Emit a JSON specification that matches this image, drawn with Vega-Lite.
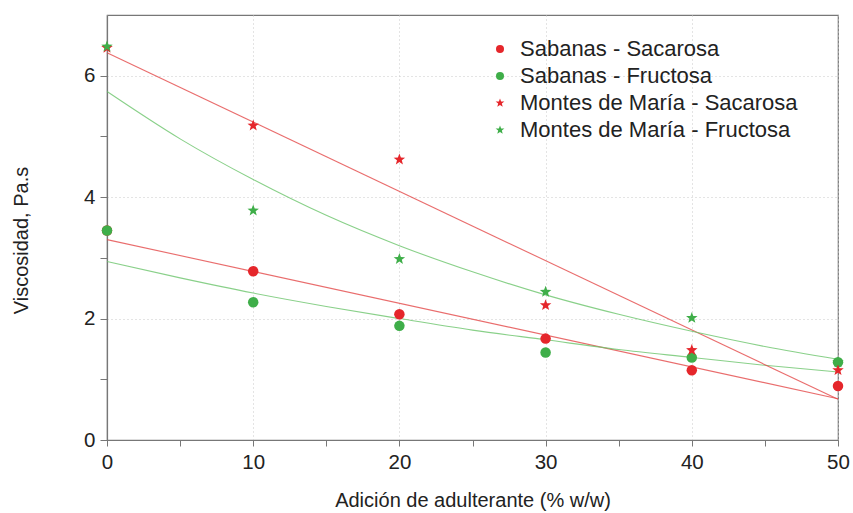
{
  "$schema": "https://vega.github.io/schema/vega-lite/v6.json",
  "width": 731,
  "height": 425,
  "autosize": {"type": "none"},
  "padding": {"left": 107, "top": 15, "right": 15, "bottom": 73},
  "background": "white",
  "config": {
    "font": "Liberation Sans",
    "view": {"stroke": "#777", "strokeWidth": 1.2},
    "axis": {"labelFont": "Liberation Sans", "titleFont": "Liberation Sans"},
    "legend": {"labelFont": "Liberation Sans"}
  },
  "datasets": {
    "pts": [
      {"x": 0, "v": 3.45, "series": "Sabanas - Sacarosa"},
      {"x": 10, "v": 2.78, "series": "Sabanas - Sacarosa"},
      {"x": 20, "v": 2.07, "series": "Sabanas - Sacarosa"},
      {"x": 30, "v": 1.67, "series": "Sabanas - Sacarosa"},
      {"x": 40, "v": 1.15, "series": "Sabanas - Sacarosa"},
      {"x": 50, "v": 0.89, "series": "Sabanas - Sacarosa"},
      {"x": 0, "v": 3.45, "series": "Sabanas - Fructosa"},
      {"x": 10, "v": 2.27, "series": "Sabanas - Fructosa"},
      {"x": 20, "v": 1.88, "series": "Sabanas - Fructosa"},
      {"x": 30, "v": 1.44, "series": "Sabanas - Fructosa"},
      {"x": 40, "v": 1.36, "series": "Sabanas - Fructosa"},
      {"x": 50, "v": 1.28, "series": "Sabanas - Fructosa"},
      {"x": 0, "v": 6.46, "series": "Montes de María - Sacarosa"},
      {"x": 10, "v": 5.18, "series": "Montes de María - Sacarosa"},
      {"x": 20, "v": 4.62, "series": "Montes de María - Sacarosa"},
      {"x": 30, "v": 2.22, "series": "Montes de María - Sacarosa"},
      {"x": 40, "v": 1.48, "series": "Montes de María - Sacarosa"},
      {"x": 50, "v": 1.15, "series": "Montes de María - Sacarosa"},
      {"x": 0, "v": 6.48, "series": "Montes de María - Fructosa"},
      {"x": 10, "v": 3.78, "series": "Montes de María - Fructosa"},
      {"x": 20, "v": 2.98, "series": "Montes de María - Fructosa"},
      {"x": 30, "v": 2.44, "series": "Montes de María - Fructosa"},
      {"x": 40, "v": 2.01, "series": "Montes de María - Fructosa"},
      {"x": 50, "v": 1.28, "series": "Montes de María - Fructosa"}
    ],
    "fits": [
      {"x": 0, "v": 3.30, "curve": "fit Sabanas - Sacarosa"},
      {"x": 50, "v": 0.68, "curve": "fit Sabanas - Sacarosa"},
      {"x": 0, "v": 2.94, "curve": "fit Sabanas - Fructosa"},
      {"x": 5, "v": 2.67, "curve": "fit Sabanas - Fructosa"},
      {"x": 10, "v": 2.42, "curve": "fit Sabanas - Fructosa"},
      {"x": 15, "v": 2.20, "curve": "fit Sabanas - Fructosa"},
      {"x": 20, "v": 2.00, "curve": "fit Sabanas - Fructosa"},
      {"x": 25, "v": 1.81, "curve": "fit Sabanas - Fructosa"},
      {"x": 30, "v": 1.65, "curve": "fit Sabanas - Fructosa"},
      {"x": 35, "v": 1.49, "curve": "fit Sabanas - Fructosa"},
      {"x": 40, "v": 1.36, "curve": "fit Sabanas - Fructosa"},
      {"x": 45, "v": 1.23, "curve": "fit Sabanas - Fructosa"},
      {"x": 50, "v": 1.12, "curve": "fit Sabanas - Fructosa"},
      {"x": 0, "v": 6.38, "curve": "fit Montes de María - Sacarosa"},
      {"x": 50, "v": 0.67, "curve": "fit Montes de María - Sacarosa"},
      {"x": 0, "v": 5.74, "curve": "fit Montes de María - Fructosa"},
      {"x": 5, "v": 4.96, "curve": "fit Montes de María - Fructosa"},
      {"x": 10, "v": 4.29, "curve": "fit Montes de María - Fructosa"},
      {"x": 15, "v": 3.70, "curve": "fit Montes de María - Fructosa"},
      {"x": 20, "v": 3.20, "curve": "fit Montes de María - Fructosa"},
      {"x": 25, "v": 2.77, "curve": "fit Montes de María - Fructosa"},
      {"x": 30, "v": 2.39, "curve": "fit Montes de María - Fructosa"},
      {"x": 35, "v": 2.07, "curve": "fit Montes de María - Fructosa"},
      {"x": 40, "v": 1.79, "curve": "fit Montes de María - Fructosa"},
      {"x": 45, "v": 1.54, "curve": "fit Montes de María - Fructosa"},
      {"x": 50, "v": 1.33, "curve": "fit Montes de María - Fructosa"}
    ]
  },
  "encoding": {
    "x": {"field": "x", "type": "quantitative", "scale": {"domain": [0, 50], "nice": false},
      "axis": {"values": [0, 5, 10, 15, 20, 25, 30, 35, 40, 45, 50],
        "labelExpr": "datum.value % 10 === 0 ? datum.label : ''",
        "title": "Adición de adulterante (% w/w)", "titleFontSize": 20, "titleFontWeight": "normal", "titleColor": "#222", "titlePadding": 18,
        "labelFontSize": 20.5, "labelColor": "#222", "labelPadding": 6, "labelFlush": false,
        "tickSize": 6,
        "tickColor": "#777", "domainColor": "#777", "domainWidth": 1.2,
        "grid": true, "gridColor": "#c8c8c8", "gridDash": [1, 3], "gridWidth": 1,
        "gridOpacity": {"condition": {"test": "datum.value % 10 === 0", "value": 1}, "value": 0}}},
    "y": {"field": "v", "type": "quantitative", "scale": {"domain": [0, 7], "nice": false},
      "axis": {"values": [0, 1, 2, 3, 4, 5, 6],
        "labelExpr": "datum.value % 2 === 0 ? datum.label : ''",
        "title": "Viscosidad, Pa.s", "titleFontSize": 20, "titleFontWeight": "normal", "titleColor": "#222", "titlePadding": 52, "titleY": 225,
        "labelFontSize": 20.5, "labelColor": "#222", "labelPadding": 5, "labelFlush": false,
        "tickSize": 7,
        "tickColor": "#777", "domainColor": "#777", "domainWidth": 1.2,
        "grid": true, "gridColor": "#c8c8c8", "gridDash": [1, 3], "gridWidth": 1,
        "gridOpacity": {"condition": {"test": "datum.value % 2 === 0 && datum.value > 0", "value": 1}, "value": 0}}}
  },
  "layer": [
    {
      "data": {"name": "fits"},
      "mark": {"type": "line", "strokeWidth": 1.1, "opacity": 0.8, "interpolate": "monotone"},
      "encoding": {
        "stroke": {"field": "curve", "type": "nominal", "legend": null,
          "scale": {"domain": ["fit Sabanas - Sacarosa", "fit Sabanas - Fructosa", "fit Montes de María - Sacarosa", "fit Montes de María - Fructosa"],
            "range": ["#e34848", "#6cc46c", "#e34848", "#6cc46c"]}},
        "detail": {"field": "curve"}
      }
    },
    {
      "data": {"name": "pts"},
      "mark": {"type": "point", "filled": true, "opacity": 1},
      "encoding": {
        "color": {"field": "series", "type": "nominal",
          "scale": {"domain": ["Sabanas - Sacarosa", "Sabanas - Fructosa", "Montes de María - Sacarosa", "Montes de María - Fructosa"],
            "range": ["#e5262b", "#3fae49", "#e5262b", "#3fae49"]},
          "legend": {"orient": "none", "legendX": 382, "legendY": 23, "title": null, "labelFontSize": 22, "labelLimit": 0, "labelColor": "#222", "symbolSize": 64, "rowPadding": 5, "labelOffset": 9, "symbolOpacity": 1}},
        "shape": {"field": "series", "type": "nominal",
          "scale": {"domain": ["Sabanas - Sacarosa", "Sabanas - Fructosa", "Montes de María - Sacarosa", "Montes de María - Fructosa"],
            "range": ["circle", "circle", "M0,-1.15L0.284,-0.391L1.094,-0.355L0.459,0.15L0.676,0.93L0,0.483L-0.676,0.93L-0.459,0.15L-1.094,-0.355L-0.284,-0.391Z", "M0,-1.15L0.284,-0.391L1.094,-0.355L0.459,0.15L0.676,0.93L0,0.483L-0.676,0.93L-0.459,0.15L-1.094,-0.355L-0.284,-0.391Z"]}},
        "size": {"value": 110}
      }
    }
  ]
}
